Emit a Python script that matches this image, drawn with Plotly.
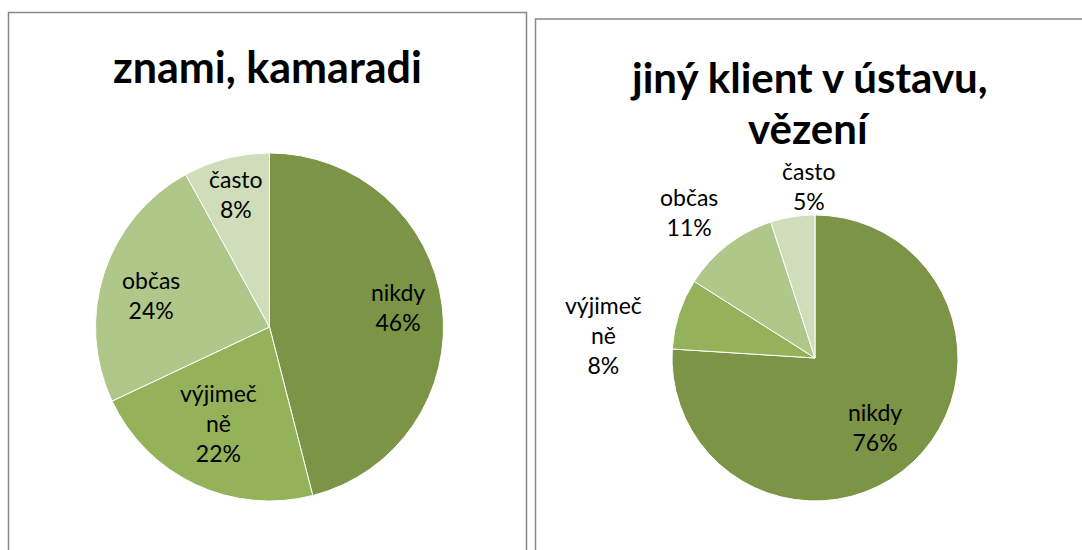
import plotly.graph_objects as go

W, H = 1082, 550

categories = ["nikdy", "výjimečně", "občas", "často"]
label_text = ["nikdy", "výjimeč<br>ně", "občas", "často"]
left_values = [46, 22, 24, 8]
right_values = [76, 8, 11, 5]
left_title = "znami, kamaradi"
right_title_lines = ["jiný klient v ústavu,", "vězení"]

colors = ["#7B9445", "#94B25A", "#B0C78A", "#CFDDBB"]
FONT = "Lato, Carlito, Calibri, sans-serif"

def px(x):
    return x / W

def py(y):
    return 1 - y / H

fig = go.Figure()

def add_pie(values, cx, cy, r):
    fig.add_trace(go.Pie(
        labels=categories, values=values, sort=False, direction="clockwise",
        rotation=0, textinfo="none", hoverinfo="label+percent",
        marker=dict(colors=colors, line=dict(color="white", width=1)),
        domain=dict(x=[px(cx - r), px(cx + r)], y=[py(cy + r), py(cy - r)]),
        showlegend=False,
    ))

add_pie(left_values, 269.5, 327, 174)
add_pie(right_values, 815, 358, 143)

# label positions (pixel centres) for each slice
left_pos = [(398, 307), (218, 423), (151, 295), (236, 194)]
right_pos = [(875, 427), (603, 335), (689, 212), (809, 186)]

annotations = []
for vals, pos in ((left_values, left_pos), (right_values, right_pos)):
    total = sum(vals)
    for lab, v, (x, y) in zip(label_text, vals, pos):
        annotations.append(dict(
            x=px(x), y=py(y), xref="paper", yref="paper", showarrow=False,
            text=f"{lab}<br>{round(100 * v / total)}%",
            font=dict(family=FONT, size=23, color="black"),
            xanchor="center", yanchor="middle",
        ))

annotations.append(dict(x=px(267), y=py(66), xref="paper", yref="paper", showarrow=False,
                        text=f"<b>{left_title}</b>", font=dict(family=FONT, size=43, color="black"),
                        xanchor="center", yanchor="middle"))
for line, yy in zip(right_title_lines, (77, 128)):
    annotations.append(dict(x=px(809), y=py(yy), xref="paper", yref="paper", showarrow=False,
                            text=f"<b>{line}</b>", font=dict(family=FONT, size=42, color="black"),
                            xanchor="center", yanchor="middle"))

shapes = [
    dict(type="rect", xref="paper", yref="paper", x0=px(8.5), x1=px(526.5), y0=py(560), y1=py(12.5),
         line=dict(color="#888888", width=1.5), fillcolor="rgba(0,0,0,0)"),
    dict(type="rect", xref="paper", yref="paper", x0=px(535.5), x1=px(1090), y0=py(560), y1=py(19),
         line=dict(color="#888888", width=1.5), fillcolor="rgba(0,0,0,0)"),
]

fig.update_layout(
    width=W, height=H, margin=dict(l=0, r=0, t=0, b=0),
    paper_bgcolor="white", plot_bgcolor="white",
    annotations=annotations, shapes=shapes,
)

fig.write_html("out.html", config={"displayModeBar": False},
               post_script="document.body.style.margin='0';document.body.style.overflow='hidden';")
